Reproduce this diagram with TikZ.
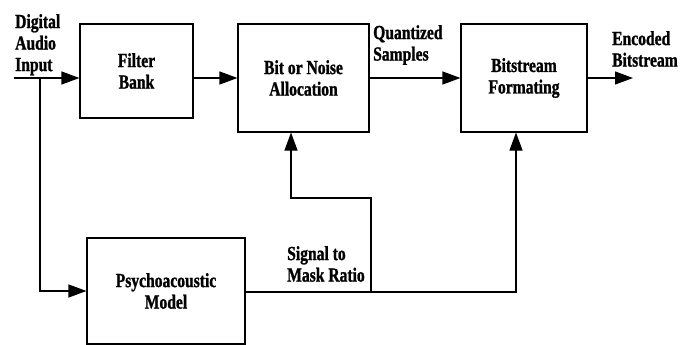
\documentclass[tikz,border=0pt]{standalone}
\usepackage{fontspec}
\setmainfont{Liberation Serif}[FakeStretch=0.78, BoldFeatures={FakeBold=1.2}]
\usetikzlibrary{arrows.meta,calc}
\tikzset{
  lbl/.style={font=\fontsize{20}{21.5}\selectfont\bfseries, inner sep=0pt},
  blk/.style={draw, line width=1.1pt, lbl, align=center},
  arr/.style={line width=1.1pt, -{Triangle[length=18pt,width=13pt]}},
  ln/.style={line width=1.1pt}
}
\begin{document}
\begin{tikzpicture}[x=1pt,y=-1pt]
\useasboundingbox (0,0) rectangle (694,345);
% blocks
\node[blk, minimum width=113pt, minimum height=94pt] (fb) at (136.5,71) {Filter\\Bank};
\node[blk, minimum width=131pt, minimum height=108pt] (bn) at (303.5,78) {Bit or Noise\\Allocation};
\node[blk, minimum width=126pt, minimum height=108pt] (bs) at (524,78) {Bitstream\\Formating};
\node[blk, minimum width=158pt, minimum height=106pt] (pm) at (166,291) {Psychoacoustic\\Model};
% labels
\node[lbl, align=left, anchor=north west] (lin) at (15,14) {Digital\\Audio\\Input};
\node[lbl, align=left, anchor=north west] (lq) at (373,25) {Quantized\\Samples};
\node[lbl, align=left, anchor=north west] (lout) at (612,31) {Encoded\\Bitstream};
\node[lbl, align=left, anchor=north west] (lsmr) at (287,246) {Signal to\\Mask Ratio};
% connector points
\coordinate (in) at (14,78);
\coordinate (br) at (40,78);
\coordinate (out) at (633,78);
\coordinate (smr) at (371,292);
\coordinate (stp) at (291,198);
\coordinate (bsin) at ([xshift=-8pt]bs.south);
% connectors
\draw[arr] (in) -- (in -| fb.west);
\draw[arr] (br) |- (pm.west);
\draw[arr] (fb.east |- bn.west) -- (bn.west);
\draw[arr] (bn.east) -- (bs.west);
\draw[arr] (bs.east) -- (out);
\draw[arr] (pm.east |- smr) -| (bsin);
\draw[arr] (smr) |- (stp) -- (stp |- bn.south);
\end{tikzpicture}
\end{document}
